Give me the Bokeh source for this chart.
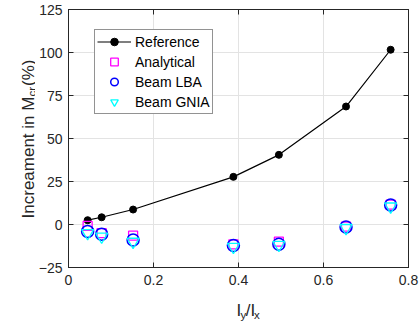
import math
from bokeh.plotting import figure
from bokeh.layouts import row, column
from bokeh.models import (Legend, LegendItem, LinearAxis, FixedTicker, Range1d,
                          CustomJSTickFormatter)
from bokeh.core.properties import value
from bokeh.embed import file_html
from bokeh.resources import INLINE

# ---- data ----
ratio = [0.045, 0.078, 0.152, 0.388, 0.495, 0.653, 0.758]
reference = [2.5, 4.2, 8.7, 27.7, 40.5, 68.6, 101.6]
analytical = [-0.8, -5.0, -6.5, -11.5, -10.0, -1.2, 11.5]
beam_lba = [-4.0, -5.6, -9.0, -12.2, -11.5, -1.5, 11.3]
beam_gnia = [-5.0, -7.0, -10.0, -13.0, -11.8, -2.0, 10.5]

x_ticks = [0, 0.2, 0.4, 0.6, 0.8]
y_ticks = [-25, 0, 25, 50, 75, 100, 125]

FONT = "Liberation Sans"
AX = "#262626"

W, H = 420, 322
LEFT_W = 35          # strip holding the y-axis title
BOTTOM_H = 30        # strip holding the x-axis title
MAIN_W = W - LEFT_W
MAIN_H = H - BOTTOM_H

p = figure(width=MAIN_W, height=MAIN_H, output_backend="svg", toolbar_location=None,
           x_range=Range1d(0, 0.8), y_range=Range1d(-25, 125),
           min_border_left=66 - LEFT_W, min_border_right=12, min_border_top=9,
           min_border_bottom=MAIN_H - 267)
p.background_fill_color = "white"
p.border_fill_color = "white"
p.outline_line_color = AX
p.outline_line_width = 1

for ax in (p.xaxis[0], p.yaxis[0]):
    ax.major_tick_in = 5
    ax.major_tick_out = 0
    ax.minor_tick_line_color = None
    ax.axis_line_color = AX
    ax.major_tick_line_color = AX
    ax.major_label_text_font = FONT
    ax.major_label_text_font_size = "14px"
    ax.major_label_text_color = AX
p.xaxis[0].ticker = FixedTicker(ticks=x_ticks)
p.yaxis[0].ticker = FixedTicker(ticks=y_ticks)
p.xaxis[0].major_label_standoff = 7
p.yaxis[0].major_label_standoff = 6
p.xaxis[0].major_label_overrides = {0: "0"}

# top and right box axes with inward ticks, no labels
empty = CustomJSTickFormatter(code="return ''")
top = LinearAxis(ticker=FixedTicker(ticks=x_ticks), formatter=empty,
                 major_tick_in=5, major_tick_out=0, minor_tick_line_color=None,
                 axis_line_color=AX, major_tick_line_color=AX, major_label_standoff=0)
right = LinearAxis(ticker=FixedTicker(ticks=y_ticks), formatter=empty,
                   major_tick_in=5, major_tick_out=0, minor_tick_line_color=None,
                   axis_line_color=AX, major_tick_line_color=AX, major_label_standoff=0)
p.add_layout(top, "above")
p.add_layout(right, "right")

p.xgrid.ticker = FixedTicker(ticks=x_ticks)
p.ygrid.ticker = FixedTicker(ticks=y_ticks)
p.grid.grid_line_color = "#e3e3e3"
p.grid.grid_line_width = 1

# ---- data renderers ----
r_line = p.line(ratio, reference, line_color="black", line_width=1.2)
r_dot = p.scatter(ratio, reference, marker="circle", size=7, fill_color="black",
                  line_color="black")
r_an = p.scatter(ratio, analytical, marker="square", size=9, fill_color=None,
                 line_color="#ff00ff", line_width=1.3)
r_lba = p.scatter(ratio, beam_lba, marker="circle", size=12, fill_color=None,
                  line_color="#0000ff", line_width=1.5)
r_gn = p.scatter(ratio, beam_gnia, marker="inverted_triangle", size=12, fill_color=None,
                 line_color="#00ffff", line_width=1.3)

legend = Legend(items=[
    LegendItem(label="Reference", renderers=[r_line, r_dot]),
    LegendItem(label="Analytical", renderers=[r_an]),
    LegendItem(label="Beam LBA", renderers=[r_lba]),
    LegendItem(label="Beam GNIA", renderers=[r_gn]),
], location=(26, 153))
legend.label_text_font = FONT
legend.label_text_font_size = "14px"
legend.label_text_color = "black"
legend.border_line_color = AX
legend.border_line_width = 1
legend.background_fill_color = "white"
legend.background_fill_alpha = 1
legend.padding = 2
legend.spacing = 1
legend.margin = 0
legend.glyph_width = 34
legend.glyph_height = 19
legend.label_height = 19
legend.label_standoff = 4
p.add_layout(legend, "center")

# ---- axis titles with subscripts, in small pixel-scaled strips ----
BIG = 17
SMALL = 11.5

def tw(s, size):
    widths = {"I": .278, "n": .556, "c": .5, "r": .333, "e": .556, "a": .556, "m": .833,
              "t": .278, " ": .278, "i": .222, "M": .833, "(": .333, "%": .889, ")": .333,
              "y": .5, "/": .278, "x": .5}
    return sum(widths.get(ch, .556) for ch in s) * size

def strip(w, h):
    f = figure(width=w, height=h, output_backend="svg", toolbar_location=None,
               x_range=Range1d(0, w), y_range=Range1d(0, h), min_border=0)
    f.axis.visible = False
    f.grid.visible = False
    f.outline_line_color = None
    f.background_fill_color = "white"
    f.border_fill_color = "white"
    return f

# y title (rotated, reading upward); strip covers canvas x 0..35, full height
ylab = strip(LEFT_W, H)
parts_y = [("Increament in M", BIG, 0), ("cr", SMALL, 3), ("(%)", BIG, 0)]
total = sum(tw(s, sz) for s, sz, _ in parts_y)
pos = (H - 139) - total / 2
base_x = 28
for s, sz, off in parts_y:
    ylab.text(x=[base_x + off], y=[pos], text=[s], angle=math.pi / 2,
              text_align="left", text_baseline="alphabetic",
              text_font=value(FONT), text_font_size=value(f"{sz}px"), text_color=AX)
    pos += tw(s, sz) + (1 if s == "cr" else 0)

# x title; strip covers canvas x 35..420, y 292..322
xlab = strip(MAIN_W, BOTTOM_H)
parts_x = [("I", BIG, 0), ("y", SMALL, -4), ("/I", BIG, 0), ("x", SMALL, -4)]
total = sum(tw(s, sz) for s, sz, _ in parts_x)
pos = (238 - LEFT_W) - total / 2
base_y = H - 310
for s, sz, off in parts_x:
    xlab.text(x=[pos], y=[base_y + off], text=[s], text_align="left",
              text_baseline="alphabetic", text_font=value(FONT),
              text_font_size=value(f"{sz}px"), text_color=AX)
    pos += tw(s, sz)

layout = row(ylab, column(p, xlab, spacing=0), spacing=0)
open("out.html", "w").write(file_html(layout, INLINE))
